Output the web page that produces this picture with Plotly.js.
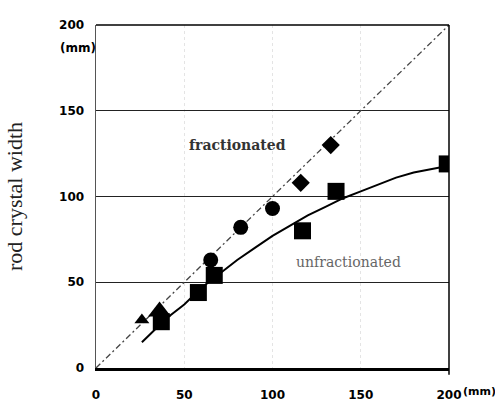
<!DOCTYPE html>
<html><head><meta charset="utf-8">
<script src="https://cdn.plot.ly/plotly-3.0.1.min.js"></script>
<style>html,body{margin:0;padding:0;background:#fff}#chart{width:495px;height:401px}</style>
</head><body><div id="chart"></div>
<script>
// Data (units: mm)
const triSmallX = [26];
const triSmallY = [28];
const triLargeX = [36];
const triLargeY = [33];
const squareX = [37, 58, 67, 117, 136, 199];
const squareY = [27, 44, 54, 80, 103, 119];
const circleX = [65, 82, 100];
const circleY = [63, 82, 93];
const diamondX = [116, 133];
const diamondY = [108, 130];
const identityX = [0, 200];
const identityY = [0, 200];
const fitX = [26, 40, 50, 60, 70, 80, 90, 100, 110, 120, 130, 140, 150, 160, 170, 180, 190, 200];
const fitY = [15, 29, 37, 47, 55, 63, 70, 77, 83, 89, 94, 99, 103, 107, 111, 114, 116, 118];
const xTicks = [0, 50, 100, 150, 200];
const xTickText = ['0', '50', '100', '150', '200'];
const yTicks = [0, 50, 100, 150, 200];
const yTickText = ['0', '50', '100', '150', '200'];

const traces = [
  {x: identityX, y: identityY, mode: 'lines', line: {color: '#444', width: 1.3, dash: '6px,3px,2px,3px'}, hoverinfo: 'skip'},
  {x: fitX, y: fitY, mode: 'lines', line: {color: '#000', width: 2}, hoverinfo: 'skip'},
  {x: triSmallX, y: triSmallY, mode: 'markers', marker: {symbol: 'triangle-up', size: 13, color: '#000'}},
  {x: triLargeX, y: triLargeY, mode: 'markers', marker: {symbol: 'triangle-up', size: 20, color: '#000'}},
  {x: squareX, y: squareY, mode: 'markers', marker: {symbol: 'square', size: 17, color: '#000'}},
  {x: circleX, y: circleY, mode: 'markers', marker: {symbol: 'circle', size: 15, color: '#000'}},
  {x: diamondX, y: diamondY, mode: 'markers', marker: {symbol: 'diamond', size: 14, color: '#000'}}
];

const tickFont = {family: 'DejaVu Sans', size: 12, color: '#000', weight: 'bold'};
const layout = {
  width: 495, height: 401,
  margin: {l: 96, r: 46, t: 25, b: 33},
  paper_bgcolor: '#fff', plot_bgcolor: '#fff',
  showlegend: false,
  xaxis: {
    range: [0, 200], tickvals: xTicks, ticktext: xTickText,
    showgrid: true, gridcolor: '#e4e4e4', griddash: 'dot', gridwidth: 1,
    zeroline: false, showline: true, linecolor: '#000', linewidth: 3,
    ticks: '', ticklabelstandoff: 14, tickfont: tickFont, mirror: false
  },
  yaxis: {
    range: [0, 200], tickvals: yTicks, ticktext: yTickText,
    showgrid: true, gridcolor: '#222', gridwidth: 1.2,
    zeroline: false, showline: true, linecolor: '#555', linewidth: 1.5,
    ticks: '', ticklabelstandoff: 8, tickfont: tickFont,
    title: {text: 'rod crystal width', font: {family: 'Liberation Serif', size: 22, color: '#222'}, standoff: 30}
  },
  shapes: [
    {type: 'line', xref: 'paper', yref: 'paper', x0: 0, x1: 1, y0: 1, y1: 1, line: {color: '#000', width: 1.5}},
    {type: 'line', xref: 'paper', yref: 'paper', x0: 1, x1: 1, y0: -0.02, y1: 1, line: {color: '#000', width: 1.5}}
  ],
  annotations: [
    {text: 'fractionated', x: 80, y: 130, xref: 'x', yref: 'y', showarrow: false,
     font: {family: 'DejaVu Serif', size: 14, color: '#333', weight: 'bold'}},
    {text: 'unfractionated', x: 143, y: 62, xref: 'x', yref: 'y', showarrow: false,
     font: {family: 'DejaVu Serif', size: 14, color: '#666'}},
    {text: '(mm)', x: -0.05, y: 0.96, xref: 'paper', yref: 'paper', showarrow: false,
     font: tickFont, xanchor: 'center'},
    {text: '(mm)', x: 1.035, y: -0.068, xref: 'paper', yref: 'paper', showarrow: false,
     font: {family: 'DejaVu Sans', size: 11, color: '#000', weight: 'bold'}, xanchor: 'left', yanchor: 'middle'}
  ]
};
Plotly.newPlot('chart', traces, layout, {displayModeBar: false, staticPlot: true});
</script></body></html>
